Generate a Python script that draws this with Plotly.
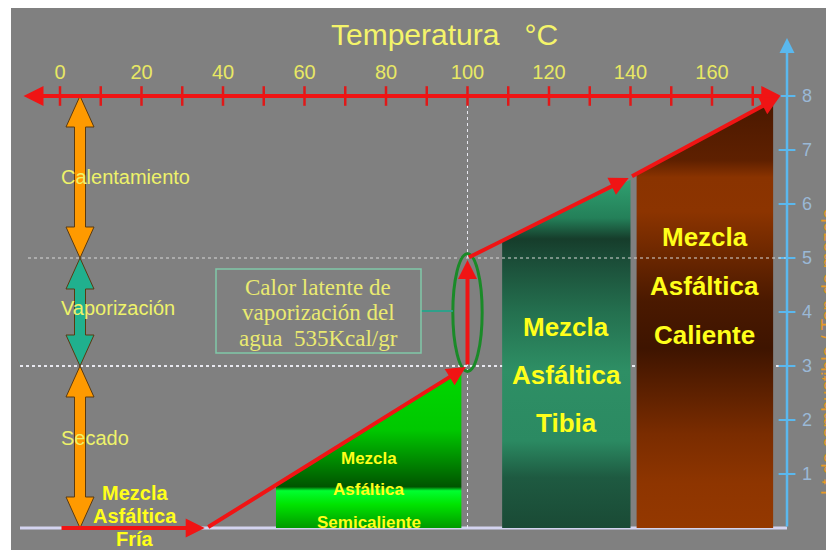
import plotly.graph_objects as go

# ---------------- data ----------------
temp_ticks = [0, 20, 40, 60, 80, 100, 120, 140, 160]          # labelled °C ticks
temp_minor = list(range(0, 171, 10))                          # red tick marks
fuel_ticks = [1, 2, 3, 4, 5, 6, 7, 8]                         # right axis ticks

heat_T = [0, 36, 100, 100, 140, 177]                          # heating path (°C)
heat_v = [0, 0, 3, 5, 6.5, 8]                                 # heating path (Lt/Ton)

stage_names = ["Secado", "Vaporización", "Calentamiento"]
stage_bounds = [0, 3, 5, 8]

semi_T = [53, 53, 98.5, 98.5]
semi_v = [0, 0.8, 2.93, 0]
tibia_T = [108.5, 108.5, 140, 140]
tibia_v = [0, 5.32, 6.45, 0]
cal_T = [141.5, 141.5, 175, 175]
cal_v = [0, 6.55, 7.92, 0]

fria_lines = ["Mezcla", "Asfáltica", "Fría"]
semi_lines = ["Mezcla", "Asfáltica", "Semicaliente"]
tibia_lines = ["Mezcla", "Asfáltica", "Tibia"]
cal_lines = ["Mezcla", "Asfáltica", "Caliente"]
latent_lines = ["Calor latente de", "vaporización del", "agua  535Kcal/gr"]

# ---------------- geometry helpers ----------------
W, H = 834, 550
OFF = 8                      # page body margin in the browser
X0PX, XPX = 60.0, 4.075      # window pixel of 0°C, pixels per °C
Y0PX, YPX = 528.0, 54.0      # window pixel of 0, pixels per unit
xr = [(OFF - X0PX) / XPX, (W + OFF - X0PX) / XPX]
yr = [(Y0PX - (H + OFF)) / YPX, (Y0PX - OFF) / YPX]


def tx(px):
    return (px - X0PX) / XPX


def vy(py):
    return (Y0PX - py) / YPX


def pxp(px):
    return (px - OFF) / W


def pyp(py):
    return 1 - (py - OFF) / H


fig = go.Figure()

# ---------- filled mix regions with vertical gradients ----------
def region(T, v, scale):
    fig.add_trace(go.Scatter(
        x=T + [T[0]], y=v + [v[0]], mode="lines", fill="toself",
        line=dict(width=0), hoverinfo="skip", showlegend=False,
        fillgradient=dict(type="vertical", colorscale=scale,
                          start=0, stop=max(v))))


region(semi_T, semi_v, [
    [0.0, "#009a00"], [0.15, "#00e400"], [0.235, "#00ff30"], [0.26, "#005400"],
    [0.36, "#007400"], [0.62, "#00c800"], [1.0, "#00d800"]])
region(tibia_T, tibia_v, [
    [0.0, "#1a4a35"], [0.145, "#1e5a41"], [0.25, "#2b8a62"], [0.45, "#2e8f65"],
    [0.62, "#24704f"], [0.78, "#1a4a36"], [0.83, "#163d2b"], [0.89, "#248059"],
    [1.0, "#30a070"]])
region(cal_T, cal_v, [
    [0.0, "#943800"], [0.105, "#8e3500"], [0.22, "#7a2c00"], [0.42, "#3e1400"],
    [0.53, "#4a1900"], [0.74, "#8c3400"], [0.82, "#8a3300"], [0.86, "#5e2000"],
    [1.0, "#4a1800"]])

# ---------- stage double arrows (left) ----------
stage_colors = ["#ff9a00", "#20b08e", "#ff9a00"]
xc = tx(80)
sw, hw, hl = 5.5 / XPX, 14 / XPX, 31 / YPX
for i, name in enumerate(stage_names):
    a, b = stage_bounds[i], stage_bounds[i + 1]
    px_ = [xc, xc + hw, xc + sw, xc + sw, xc + hw, xc, xc - hw, xc - sw, xc - sw, xc - hw, xc]
    py_ = [b, b - hl, b - hl, a + hl, a + hl, a, a + hl, a + hl, b - hl, b - hl, b]
    fig.add_trace(go.Scatter(x=px_, y=py_, mode="lines", fill="toself",
                             fillcolor=stage_colors[i],
                             line=dict(color="#5a3a10", width=1),
                             hoverinfo="skip", showlegend=False))

# ---------- red tick marks on the temperature axis ----------
fig.add_trace(go.Scatter(x=temp_minor, y=[heat_v[-1]] * len(temp_minor), mode="markers",
                         marker=dict(symbol="line-ns", size=14,
                                     line=dict(color="#e01818", width=2.5)),
                         hoverinfo="skip", showlegend=False))

# ---------- blue tick marks on right axis ----------
axis_T = tx(787)
fig.add_trace(go.Scatter(x=[axis_T] * len(fuel_ticks), y=fuel_ticks, mode="markers",
                         marker=dict(symbol="line-ew", size=12,
                                     line=dict(color="#5ab8ee", width=2)),
                         hoverinfo="skip", showlegend=False))

shapes = []
# grey panel
shapes.append(dict(type="rect", xref="paper", yref="paper", x0=pxp(11), x1=1.02, y0=-0.02, y1=1.02,
                   fillcolor="#808080", line=dict(width=0), layer="below"))
# baseline
shapes.append(dict(type="line", x0=tx(20), x1=axis_T, y0=0, y1=0,
                   line=dict(color="#d4d4f0", width=3), layer="below"))
# dotted guide lines
shapes.append(dict(type="line", x0=tx(20), x1=axis_T, y0=stage_bounds[1], y1=stage_bounds[1],
                   line=dict(color="#e8e8f0", width=2, dash="dot"), layer="below"))
shapes.append(dict(type="line", x0=tx(28), x1=axis_T, y0=stage_bounds[2], y1=stage_bounds[2],
                   line=dict(color="#d8d8d8", width=1, dash="dot"), layer="above"))
shapes.append(dict(type="line", x0=100, x1=100, y0=0, y1=heat_v[-1],
                   line=dict(color="#e8e8f0", width=1, dash="dot"), layer="below"))
# ellipse around the vaporization step
shapes.append(dict(type="circle", x0=100 - 3.6, x1=100 + 3.6,
                   y0=stage_bounds[1] - 0.1, y1=stage_bounds[2] + 0.08,
                   line=dict(color="#1a8a28", width=3), layer="above"))
# connector from text box to ellipse
shapes.append(dict(type="line", x0=tx(421), x1=100 - 3.6, y0=vy(311), y1=vy(311),
                   line=dict(color="#2fa08a", width=2), layer="above"))
# latent heat text box
shapes.append(dict(type="rect", x0=tx(216), x1=tx(421), y0=vy(353), y1=vy(269),
                   line=dict(color="#80c8a8", width=1.5), fillcolor="rgba(0,0,0,0)",
                   layer="above"))

ann = []
RED = "#f01414"
# top temperature axis (double headed)
ann.append(dict(x=heat_T[-1], y=heat_v[-1], ax=tx(22), ay=heat_v[-1], xref="x", yref="y",
                axref="x", ayref="y", text="", showarrow=True, arrowhead=2, arrowside="end+start",
                arrowsize=1, arrowwidth=4, arrowcolor=RED, standoff=0, startstandoff=0))
# right axis arrow
ann.append(dict(x=axis_T, y=vy(38), ax=axis_T, ay=0, xref="x", yref="y",
                axref="x", ayref="y", text="", showarrow=True, arrowhead=2,
                arrowsize=1.2, arrowwidth=2.5, arrowcolor="#5ab8ee", standoff=0))
# heating path segments
for i in range(len(heat_T) - 1):
    ann.append(dict(x=heat_T[i + 1], y=heat_v[i + 1], ax=heat_T[i], ay=heat_v[i],
                    xref="x", yref="y", axref="x", ayref="y", text="", showarrow=True,
                    arrowhead=2, arrowsize=0.95, arrowwidth=4, arrowcolor=RED, standoff=2))

LBL = "#eef26a"
YEL = "#ffff1a"
SANS = "Liberation Sans, Arial, sans-serif"
# title
ann.append(dict(x=pxp(445), y=pyp(35), xref="paper", yref="paper", text="Temperatura   °C",
                xanchor="center", yanchor="middle",
                showarrow=False, font=dict(family=SANS, size=30, color="#f4f46a")))
# stage labels
for name, ypx in zip(stage_names, [438, 308, 177]):
    ann.append(dict(x=tx(59), y=vy(ypx), xref="x", yref="y", text=name, showarrow=False,
                    xanchor="left", yanchor="middle", font=dict(family=SANS, size=20, color=LBL)))


def stacked(lines, xpx, ys, size, bold=True, family=SANS, color=YEL):
    for t, ypx in zip(lines, ys):
        ann.append(dict(x=tx(xpx), y=vy(ypx), xref="x", yref="y",
                        text=("<b>%s</b>" % t) if bold else t,
                        xanchor="center", yanchor="middle",
                        showarrow=False, font=dict(family=family, size=size, color=color)))


stacked(fria_lines, 135, [493, 516, 539], 20)
stacked(semi_lines, (semi_T[0] + semi_T[-1]) / 2 * XPX + X0PX, [458, 489, 522], 17)
stacked(tibia_lines, (tibia_T[0] + tibia_T[-1]) / 2 * XPX + X0PX, [327, 375, 423], 26)
stacked(cal_lines, (cal_T[0] + cal_T[-1]) / 2 * XPX + X0PX, [237, 286, 335], 26)
stacked(latent_lines, 318, [287, 312, 338], 23, bold=False,
        family="Liberation Serif, Times New Roman, serif", color="#eaea70")

# right side axis title (cut by the frame, as in the original)
ann.append(dict(x=pxp(827), y=pyp(352), xref="paper", yref="paper",
                text="Lt de combustible / Ton de mezcla", textangle=-90, showarrow=False,
                xanchor="center", yanchor="middle",
                font=dict(family=SANS, size=19, color="#e89a28")))

fig.update_layout(
    width=W, height=H, margin=dict(l=0, r=0, t=0, b=0),
    paper_bgcolor="#ffffff", plot_bgcolor="rgba(0,0,0,0)",
    showlegend=False, shapes=shapes, annotations=ann,
    xaxis=dict(range=xr, side="top", anchor="free", position=pyp(83),
               tickvals=temp_ticks, ticks="", showline=False, showgrid=False, zeroline=False,
               tickfont=dict(family=SANS, size=20, color="#e8e864"), fixedrange=True),
    yaxis=dict(range=yr, side="right", anchor="free", position=pxp(787),
               tickvals=fuel_ticks, ticks="", showline=False, showgrid=False, zeroline=False,
               ticklabelstandoff=14,
               tickfont=dict(family=SANS, size=18, color="#9ab8d6"), fixedrange=True),
)

fig.write_html("out.html")
